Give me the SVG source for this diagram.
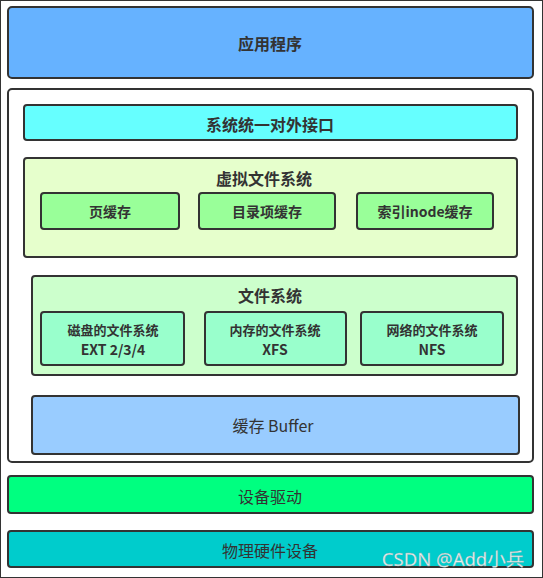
<svg xmlns="http://www.w3.org/2000/svg" width="543" height="578" viewBox="0 0 543 578">
<style>
rect{stroke:#333;stroke-width:2}
text{font-family:"Noto Sans CJK SC","Microsoft YaHei",sans-serif;fill:#333;text-anchor:middle;dominant-baseline:central}
.b{font-weight:bold}
.t16{font-size:16px}
.t13{font-size:13px}
.t14{font-size:14px}
</style>
<rect width="543" height="578" fill="#fff" stroke="none"/>
<g id="app"><rect x="8" y="7" width="525" height="71" rx="4" fill="#66b2ff"/><text x="270" y="43" class="t16 b">应用程序</text></g>
<g id="kernel"><rect x="8" y="89" width="525" height="373" rx="4" fill="#fff"/></g>
<g id="interface"><rect x="24" y="105" width="493" height="35" rx="3" fill="#66ffff"/><text x="270" y="124" class="t16 b">系统统一对外接口</text></g>
<g id="vfs"><rect x="24" y="158" width="493" height="99" rx="3" fill="#e6ffcc"/><text x="264" y="178" class="t16 b">虚拟文件系统</text></g>
<g id="pagecache"><rect x="41" y="193" width="138" height="36" rx="3" fill="#99ff99"/><text x="110" y="211" class="t14 b">页缓存</text></g>
<g id="dentry"><rect x="199" y="193" width="136" height="36" rx="3" fill="#99ff99"/><text x="267" y="211" class="t14 b">目录项缓存</text></g>
<g id="inode"><rect x="357" y="193" width="136" height="36" rx="3" fill="#99ff99"/><text x="425" y="211" class="t14 b">索引inode缓存</text></g>
<g id="fs"><rect x="32" y="276" width="485" height="99" rx="3" fill="#ccffcc"/><text x="270" y="295" class="t16 b">文件系统</text></g>
<g id="diskfs"><rect x="41" y="312" width="143" height="53" rx="3" fill="#99ffcc"/><text x="113" y="329" class="t13 b">磁盘的文件系统</text><text x="113" y="348.5" class="t14 b">EXT 2/3/4</text></g>
<g id="memfs"><rect x="205" y="312" width="141" height="53" rx="3" fill="#99ffcc"/><text x="275" y="329" class="t13 b">内存的文件系统</text><text x="275" y="348.5" class="t14 b">XFS</text></g>
<g id="netfs"><rect x="361" y="312" width="142" height="53" rx="3" fill="#99ffcc"/><text x="432" y="329" class="t13 b">网络的文件系统</text><text x="432" y="348.5" class="t14 b">NFS</text></g>
<g id="buffer"><rect x="32" y="396" width="487" height="58" rx="3" fill="#99ccff"/><text x="273" y="425" class="t16">缓存 Buffer</text></g>
<g id="driver"><rect x="8" y="476" width="525" height="37" rx="3" fill="#00ff80"/><text x="270" y="496" class="t16">设备驱动</text></g>
<g id="hardware"><rect x="8" y="531" width="525" height="36" rx="3" fill="#00cccc"/><text x="270" y="550" class="t16">物理硬件设备</text></g>
<g id="connectors"></g>
<text x="453" y="558" style="font-size:18.5px;fill:#e8eeee;stroke:#8aa;stroke-width:0.3;font-family:'Noto Sans','Noto Sans CJK SC',sans-serif">CSDN @Add小兵</text>
</svg>
